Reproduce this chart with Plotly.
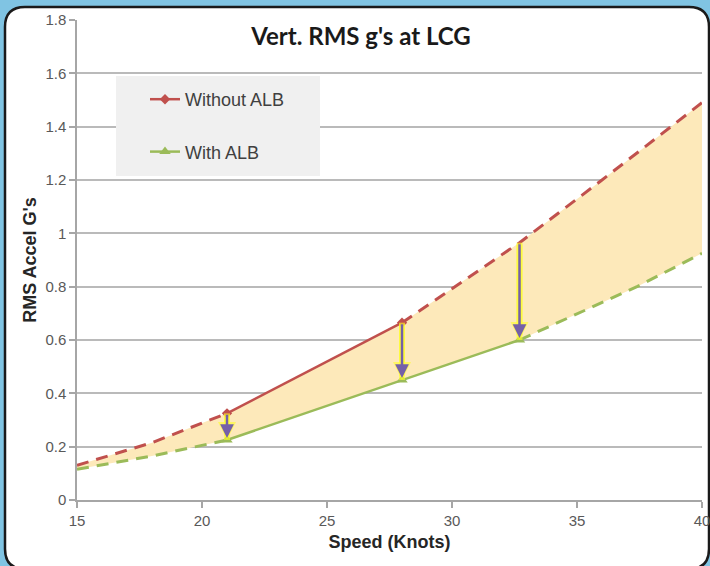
import plotly.graph_objects as go

# ---------------- data ----------------
speed_measured = [21, 28, 32.7]
without_measured = [0.325, 0.665, 0.965]
with_measured = [0.225, 0.45, 0.60]

speed_low = [15, 18]
without_low = [0.13, 0.215]
with_low = [0.115, 0.165]

without_high_speed = [36, 40]
without_high = [1.2, 1.49]
with_high_speed = [37.4, 40]
with_high = [0.80, 0.925]

x_ticks = [15, 20, 25, 30, 35, 40]
y_ticks = [0, 0.2, 0.4, 0.6, 0.8, 1, 1.2, 1.4, 1.6, 1.8]
y_tick_labels = ["0", "0.2", "0.4", "0.6", "0.8", "1", "1.2", "1.4", "1.6", "1.8"]

# full curves
without_x = speed_low + speed_measured + without_high_speed
without_y = without_low + without_measured + without_high
with_x = speed_low + speed_measured + with_high_speed
with_y = with_low + with_measured + with_high

RED = "#C0504D"
GREEN = "#9BBB59"
PURPLE = "#7560A8"
FILL = "rgb(253,233,186)"
GLOW = "rgba(255,255,40,0.6)"
DASH = "12px,8px"

fig = go.Figure()

# fill band between curves
fig.add_trace(go.Scatter(x=with_x, y=with_y, mode="lines", line=dict(width=0, color=FILL),
                         showlegend=False, hoverinfo="skip"))
fig.add_trace(go.Scatter(x=without_x, y=without_y, mode="lines", line=dict(width=0, color=FILL),
                         fill="tonexty", fillcolor=FILL, showlegend=False, hoverinfo="skip"))

# Without ALB
fig.add_trace(go.Scatter(x=without_x[0:3], y=without_y[0:3], mode="lines",
                         line=dict(color=RED, width=3, dash=DASH), showlegend=False))
fig.add_trace(go.Scatter(x=without_x[3:], y=without_y[3:], mode="lines",
                         line=dict(color=RED, width=3, dash=DASH), showlegend=False))
fig.add_trace(go.Scatter(x=without_x[2:4], y=without_y[2:4], mode="lines+markers",
                         line=dict(color=RED, width=2.5),
                         marker=dict(symbol="diamond", size=8, color=RED),
                         name="Without ALB", legendgroup="a"))

# With ALB
fig.add_trace(go.Scatter(x=with_x[0:3], y=with_y[0:3], mode="lines",
                         line=dict(color=GREEN, width=3, dash=DASH), showlegend=False))
fig.add_trace(go.Scatter(x=with_x[4:], y=with_y[4:], mode="lines",
                         line=dict(color=GREEN, width=3, dash=DASH), showlegend=False))
fig.add_trace(go.Scatter(x=with_x[2:5], y=with_y[2:5], mode="lines+markers",
                         line=dict(color=GREEN, width=2.5),
                         marker=dict(symbol="triangle-up", size=10, color=GREEN),
                         name="With ALB", legendgroup="b"))

# arrows (yellow glow + purple arrow)
for s, top, bot in zip(speed_measured, without_measured, with_measured):
    fig.add_shape(type="line", x0=s, x1=s, y0=top, y1=bot, xref="x", yref="y",
                  line=dict(color=GLOW, width=6), layer="above")
    fig.add_annotation(x=s, y=bot, ax=s, ay=top, xref="x", yref="y", axref="x", ayref="y",
                       text="", showarrow=True, arrowhead=2, arrowsize=0.6, arrowwidth=6,
                       arrowcolor=GLOW, standoff=0)
    fig.add_annotation(x=s, y=bot, ax=s, ay=top, xref="x", yref="y", axref="x", ayref="y",
                       text="", showarrow=True, arrowhead=2, arrowsize=1.1, arrowwidth=2.5,
                       arrowcolor=PURPLE, standoff=2)

# ---------- layout geometry helpers (pixel -> paper / axis units) ----------
L, T, W, H = 77, 20, 625, 480  # plot area in pixels
XMIN, XMAX, YMIN, YMAX = 15, 40, 0, 1.8


def px(xp):
    return (xp - L) / W


def py(yp):
    return (T + H - yp) / H


def dx(xp):
    return XMIN + px(xp) * (XMAX - XMIN)


def dy(yp):
    return YMIN + py(yp) * (YMAX - YMIN)


x0p, y0p, x1p, y1p, r = 5, 7, 709, 569, 20
path = (f"M {px(x0p + r)},{py(y0p)} L {px(x1p - r)},{py(y0p)} "
        f"Q {px(x1p)},{py(y0p)} {px(x1p)},{py(y0p + r)} "
        f"L {px(x1p)},{py(y1p - r)} Q {px(x1p)},{py(y1p)} {px(x1p - r)},{py(y1p)} "
        f"L {px(x0p + r)},{py(y1p)} Q {px(x0p)},{py(y1p)} {px(x0p)},{py(y1p - r)} "
        f"L {px(x0p)},{py(y0p + r)} Q {px(x0p)},{py(y0p)} {px(x0p + r)},{py(y0p)} Z")
fig.add_shape(type="path", path=path, xref="paper", yref="paper",
              fillcolor="white", line=dict(color="#1a1a1a", width=2.5), layer="below")

# legend box (above gridlines, below traces)
fig.add_shape(type="rect", xref="x", yref="y",
              x0=dx(116), x1=dx(320), y0=dy(176), y1=dy(76),
              fillcolor="#F0F0F0", line=dict(width=0), layer="between")

NARROW = "Liberation Sans Narrow, Arial Narrow, Liberation Sans, sans-serif"
SANS = "Liberation Sans, Arial, sans-serif"

fig.update_layout(
    width=710, height=566,
    margin=dict(l=L, r=710 - L - W, t=T, b=566 - T - H, autoexpand=False),
    paper_bgcolor="#80C4E3",
    plot_bgcolor="rgba(0,0,0,0)",
    font=dict(family=SANS, color="#595959", size=12),
    title=dict(text="<b>Vert. RMS g's at LCG</b>", x=361 / 710, xref="container", xanchor="center",
               y=1 - 37 / 566, yref="container", yanchor="middle",
               font=dict(family="Lato, sans-serif", size=24, color="#1a1a1a")),
    showlegend=True,
    legend=dict(x=px(145), y=py(81), xanchor="left", yanchor="top",
                bgcolor="rgba(0,0,0,0)", borderwidth=0, tracegroupgap=26,
                font=dict(size=18, color="#404040", family=NARROW)),
    xaxis=dict(range=[XMIN, XMAX], tickvals=x_ticks, showgrid=False, showline=True,
               linecolor="#A6A6A6", linewidth=1.5, ticks="outside", ticklen=6, tickcolor="#A6A6A6",
               tickwidth=1.5, zeroline=False, ticklabeloverflow="allow", automargin=False,
               tickfont=dict(size=15, color="#595959", family=NARROW),
               title=dict(text="<b>Speed (Knots)</b>", standoff=8,
                          font=dict(size=18, color="#262626", family=SANS))),
    yaxis=dict(range=[YMIN, YMAX], tickvals=y_ticks, ticktext=y_tick_labels, showgrid=True,
               gridcolor="#BABABA", gridwidth=1.5, showline=True, linecolor="#A6A6A6",
               linewidth=1.5, ticks="outside", ticklen=6, tickcolor="#A6A6A6", tickwidth=1.5,
               zeroline=False, automargin=False, tickfont=dict(size=15, color="#595959", family=NARROW),
               title=dict(text="<b>RMS Accel G's</b>", standoff=4,
                          font=dict(size=18, color="#262626", family=SANS))),
)

fig.write_html("out.html", config={"displayModeBar": False},
               post_script="document.body.style.margin='0';")
